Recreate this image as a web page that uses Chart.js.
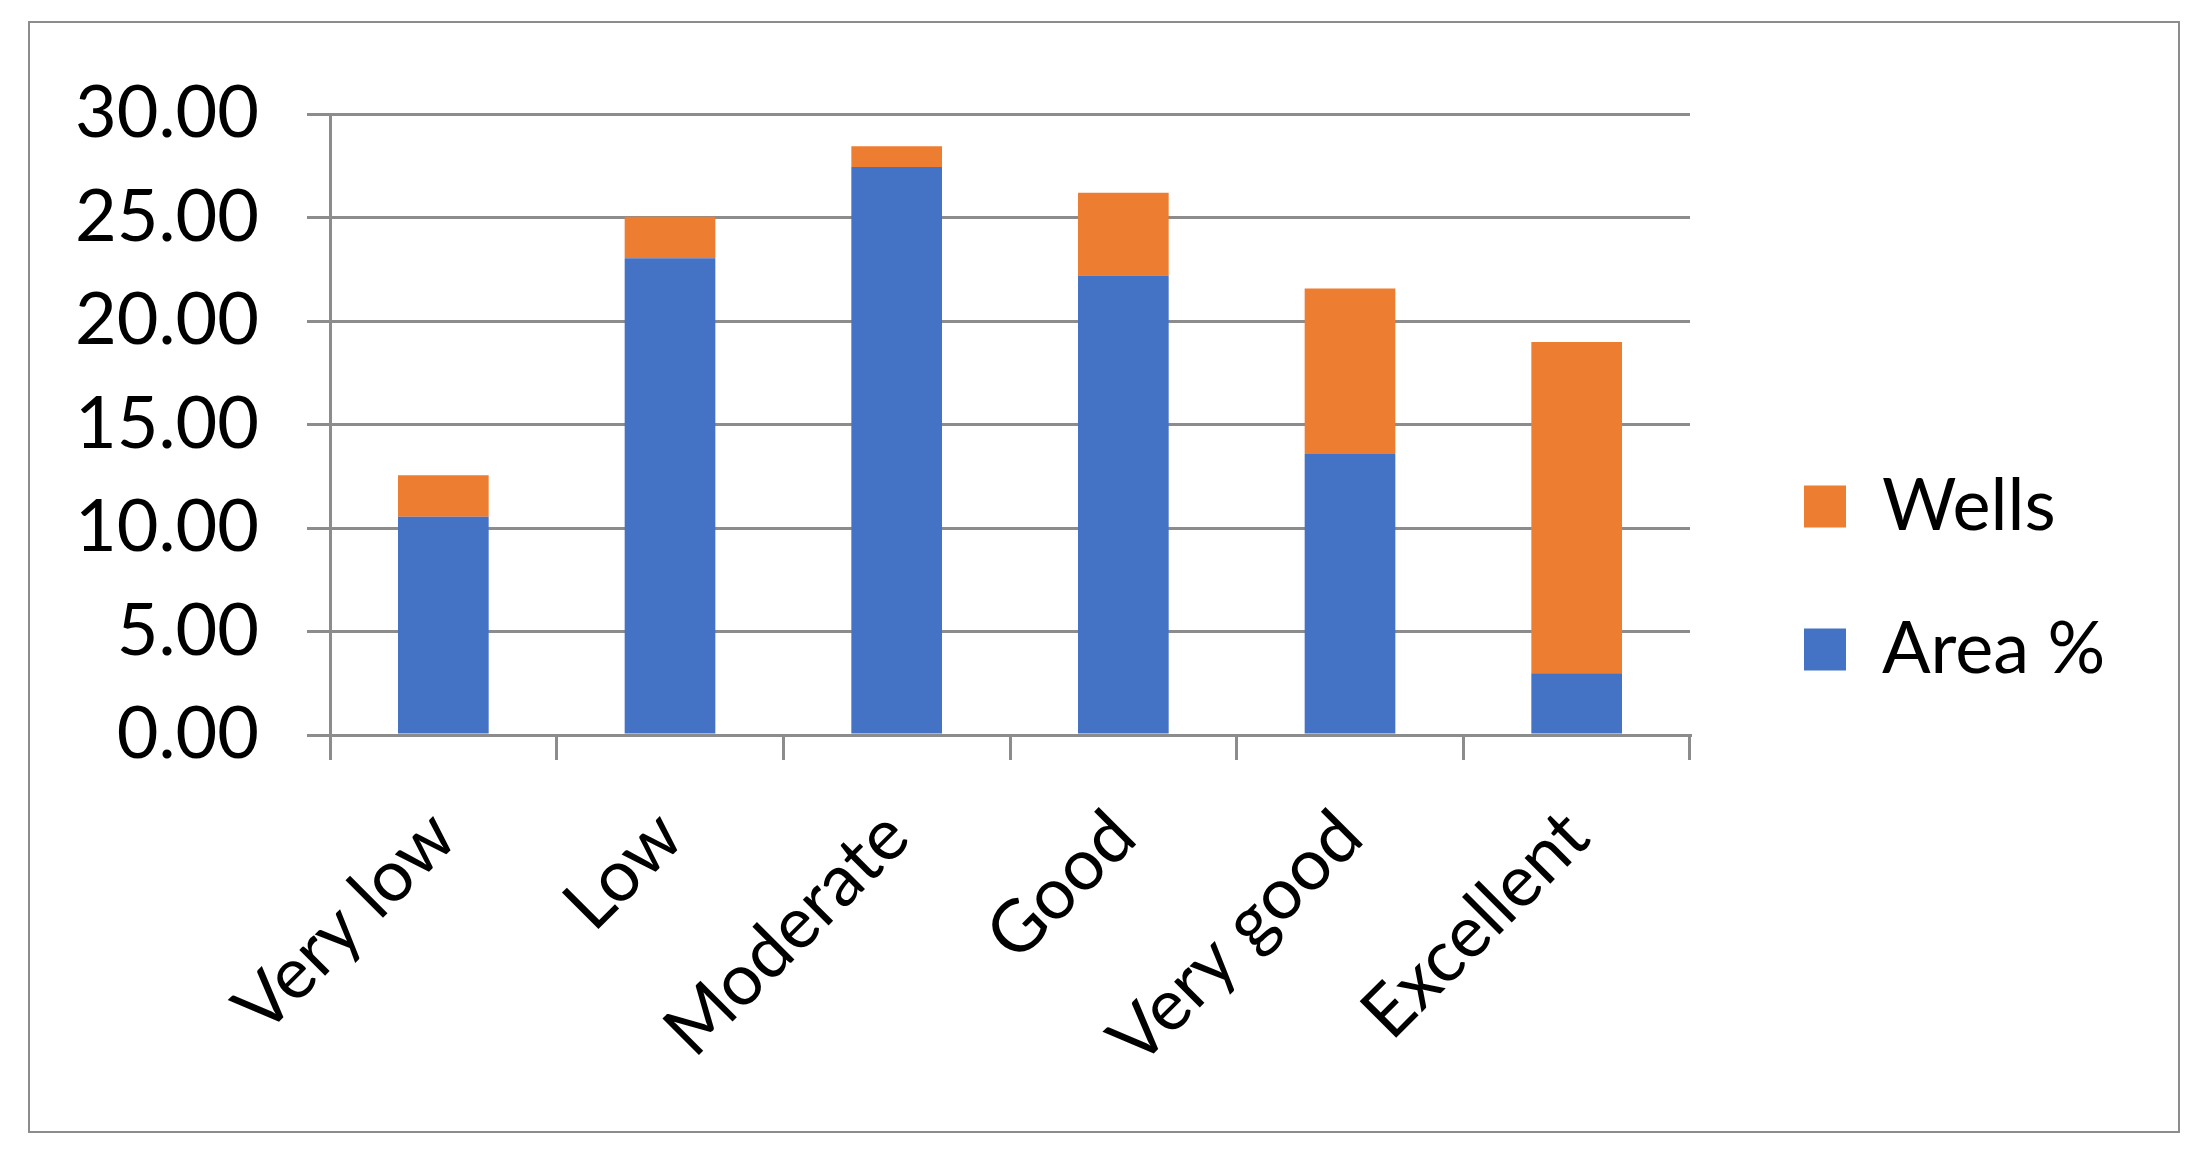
<!DOCTYPE html>
<html lang="en">
<head>
    <meta charset="UTF-8">
    <title>Area % and Wells</title>
    <style>
        body {
            margin: 0;
            background: #ffffff;
        }
        #frame {
            position: absolute;
            left: 28px;
            top: 21px;
            width: 2148px;
            height: 1108px;
            border: 2px solid #8c8c8c;
        }
    </style>
    <script src="https://cdn.jsdelivr.net/npm/chart.js"></script>
</head>
<body>
    <div id="frame">
        <canvas id="chart" width="2148" height="1108"></canvas>
    </div>

    <script>
        var categories = ['Very low', 'Low', 'Moderate', 'Good', 'Very good', 'Excellent'];
        var areaPercent = [10.55, 23.04, 27.45, 22.21, 13.58, 2.99];
        var wells = [2, 2, 1, 4, 8, 16];
        var yTicks = [0, 5, 10, 15, 20, 25, 30];

        var gridGray = '#8c8c8c';
        var fontName = 'Lato, Calibri, sans-serif';

        // legend box sits right of the plot, nudged to match the original
        var legendPlace = {
            id: 'legendPlace',
            beforeInit: function(chart) {
                var fit = chart.legend.fit;
                chart.legend.fit = function() {
                    fit.bind(chart.legend)();
                    this.width = 488;
                };
            },
            afterLayout: function(chart) {
                var lg = chart.legend;
                lg.left += 43;
                lg.right += 43;
                lg.top -= 40;
                lg.bottom -= 40;
            }
        };

        var ctx = document.getElementById('chart').getContext('2d');
        var chart = new Chart(ctx, {
            type: 'bar',
            data: {
                labels: categories,
                datasets: [
                    {
                        label: 'Area %',
                        data: areaPercent,
                        backgroundColor: '#4472C4',
                        borderWidth: 0
                    },
                    {
                        label: 'Wells',
                        data: wells,
                        backgroundColor: '#ED7D31',
                        borderWidth: 0
                    }
                ]
            },
            plugins: [legendPlace],
            options: {
                responsive: false,
                animation: false,
                layout: {
                    padding: { top: 82, right: 0, bottom: 0, left: 0 }
                },
                datasets: {
                    bar: {
                        categoryPercentage: 1.0,
                        barPercentage: 0.4
                    }
                },
                plugins: {
                    tooltip: { enabled: false },
                    legend: {
                        position: 'right',
                        reverse: true,
                        labels: {
                            boxWidth: 42,
                            boxHeight: 42,
                            padding: 71,
                            color: '#000000',
                            font: { family: fontName, size: 72 }
                        }
                    }
                },
                scales: {
                    x: {
                        stacked: true,
                        afterFit: function(scale) { scale.height = 396; },
                        grid: {
                            drawOnChartArea: false,
                            tickLength: 25,
                            tickColor: gridGray,
                            lineWidth: 3,
                            color: gridGray
                        },
                        border: { color: gridGray, width: 3 },
                        ticks: {
                            minRotation: 45,
                            maxRotation: 45,
                            padding: 34,
                            color: '#000000',
                            font: { family: fontName, size: 72 }
                        }
                    },
                    y: {
                        stacked: true,
                        min: 0,
                        max: 30,
                        afterFit: function(scale) { scale.width = 300; },
                        afterBuildTicks: function(scale) {
                            scale.ticks = yTicks.map(function(v) { return { value: v }; });
                        },
                        grid: {
                            color: gridGray,
                            lineWidth: 3,
                            tickLength: 23
                        },
                        border: { color: gridGray, width: 3 },
                        ticks: {
                            padding: 48,
                            color: '#000000',
                            font: { family: fontName, size: 72 },
                            callback: function(value) { return value.toFixed(2); }
                        }
                    }
                }
            }
        });
    </script>
</body>
</html>
